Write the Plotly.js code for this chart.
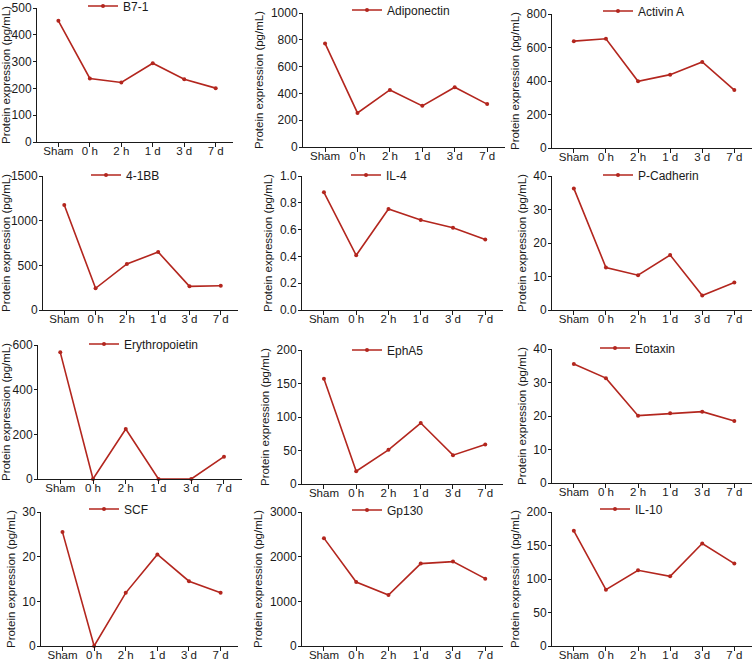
<!DOCTYPE html>
<html>
<head>
<meta charset="utf-8">
<script src="https://cdn.plot.ly/plotly-3.0.1.min.js"></script>
<style>
body { margin: 0; background: #fff; }
#plotArea { width: 755px; height: 662px; }
</style>
</head>
<body>
<div id="plotArea"></div>
<script>
// time points shared by every panel
var timepoints = ["Sham", "0 h", "2 h", "1 d", "3 d", "7 d"];

// protein expression (pg/mL)
var b71 = [452, 237, 222, 294, 234, 201];
var adiponectin = [773, 254, 426, 307, 446, 320];
var activinA = [638, 652, 398, 438, 514, 346];
var bb41 = [1175, 243, 515, 649, 265, 272];
var il4 = [0.878, 0.408, 0.754, 0.672, 0.614, 0.527];
var pCadherin = [36.3, 12.7, 10.4, 16.4, 4.3, 8.2];
var erythropoietin = [567, 0, 224, 0, 0, 100];
var ephA5 = [157, 19, 51, 91, 43, 59];
var eotaxin = [35.5, 31.3, 20.1, 20.8, 21.3, 18.5];
var scf = [25.5, 0, 11.9, 20.5, 14.5, 11.9];
var gp130 = [2415, 1433, 1140, 1845, 1890, 1508];
var il10 = [172, 84, 113, 104, 153, 123];

var proteins = ["B7-1", "Adiponectin", "Activin A", "4-1BB", "IL-4", "P-Cadherin",
    "Erythropoietin", "EphA5", "Eotaxin", "SCF", "Gp130", "IL-10"];
var series = [b71, adiponectin, activinA, bb41, il4, pCadherin,
    erythropoietin, ephA5, eotaxin, scf, gp130, il10];

// y axis tick settings
var yMax = [500, 1000, 800, 1500, 1.0, 40, 600, 200, 40, 30, 3000, 200];
var yStep = [100, 200, 200, 500, 0.2, 10, 200, 50, 10, 10, 1000, 50];

// panel placement in pixels
var W = 755, H = 662;
var axisLeft = [37, 303, 552, 43, 302, 552, 38, 302, 552, 41, 302, 552];
var axisRight = [233, 505, 752, 238, 503, 752, 242, 503, 752, 238, 503, 752];
var axisTop = [8, 13, 14, 176, 176, 176, 345, 350, 349, 512, 512, 512];
var plotH = 134;
var legTextX = [123, 387, 638, 126, 386, 638, 124, 387, 635, 124, 387, 635];
var legY = [6, 10, 11, 175, 175, 175, 344, 350, 348, 509, 510, 509];

var red = "#b3261e";
var fontFam = "Liberation Sans, Arial, sans-serif";

var data = [];
var layout = {
    width: W,
    height: H,
    margin: { l: 0, r: 0, t: 0, b: 0, autoexpand: false },
    paper_bgcolor: "#fff",
    plot_bgcolor: "rgba(0,0,0,0)",
    font: { family: fontFam, size: 12, color: "#1a1a1a" },
    showlegend: true
};

for (var i = 0; i < proteins.length; i++) {
    var n = i + 1;
    var sfx = n === 1 ? "" : String(n);
    var legName = "legend" + sfx;

    data.push({
        x: timepoints,
        y: series[i],
        name: proteins[i],
        type: "scatter",
        mode: "lines+markers",
        line: { color: red, width: 1.6 },
        marker: { color: red, size: 4 },
        cliponaxis: false,
        xaxis: "x" + sfx,
        yaxis: "y" + sfx,
        legend: legName
    });

    layout["xaxis" + sfx] = {
        domain: [axisLeft[i] / W, axisRight[i] / W],
        anchor: "y" + sfx,
        type: "category",
        range: [-0.68, 5.55],
        showline: true,
        linecolor: "#1a1a1a",
        linewidth: 1,
        ticks: "outside",
        ticklen: 4,
        tickcolor: "#1a1a1a",
        tickfont: { size: 11.5 },
        ticklabelstandoff: -6,
        showgrid: false,
        zeroline: false,
        automargin: false,
        fixedrange: true
    };

    layout["yaxis" + sfx] = {
        domain: [1 - (axisTop[i] + plotH) / H, 1 - axisTop[i] / H],
        anchor: "x" + sfx,
        range: [0, yMax[i]],
        tick0: 0,
        dtick: yStep[i],
        tickformat: yMax[i] === 1 ? ".1f" : "d",
        showline: true,
        linecolor: "#1a1a1a",
        linewidth: 1,
        ticks: "outside",
        ticklen: 3,
        tickcolor: "#1a1a1a",
        ticklabelstandoff: -1,
        showgrid: false,
        zeroline: false,
        automargin: false,
        fixedrange: true,
        title: { text: "Protein expression (pg/mL)", font: { size: 11.5 }, standoff: 4 }
    };

    layout[legName] = {
        x: (legTextX[i] - 40) / W,
        xanchor: "left",
        y: 1 - legY[i] / H,
        yanchor: "middle",
        bgcolor: "rgba(0,0,0,0)",
        borderwidth: 0,
        font: { size: 12 },
        itemwidth: 30
    };
}

Plotly.newPlot("plotArea", data, layout, { displayModeBar: false, staticPlot: true });
</script>
</body>
</html>
